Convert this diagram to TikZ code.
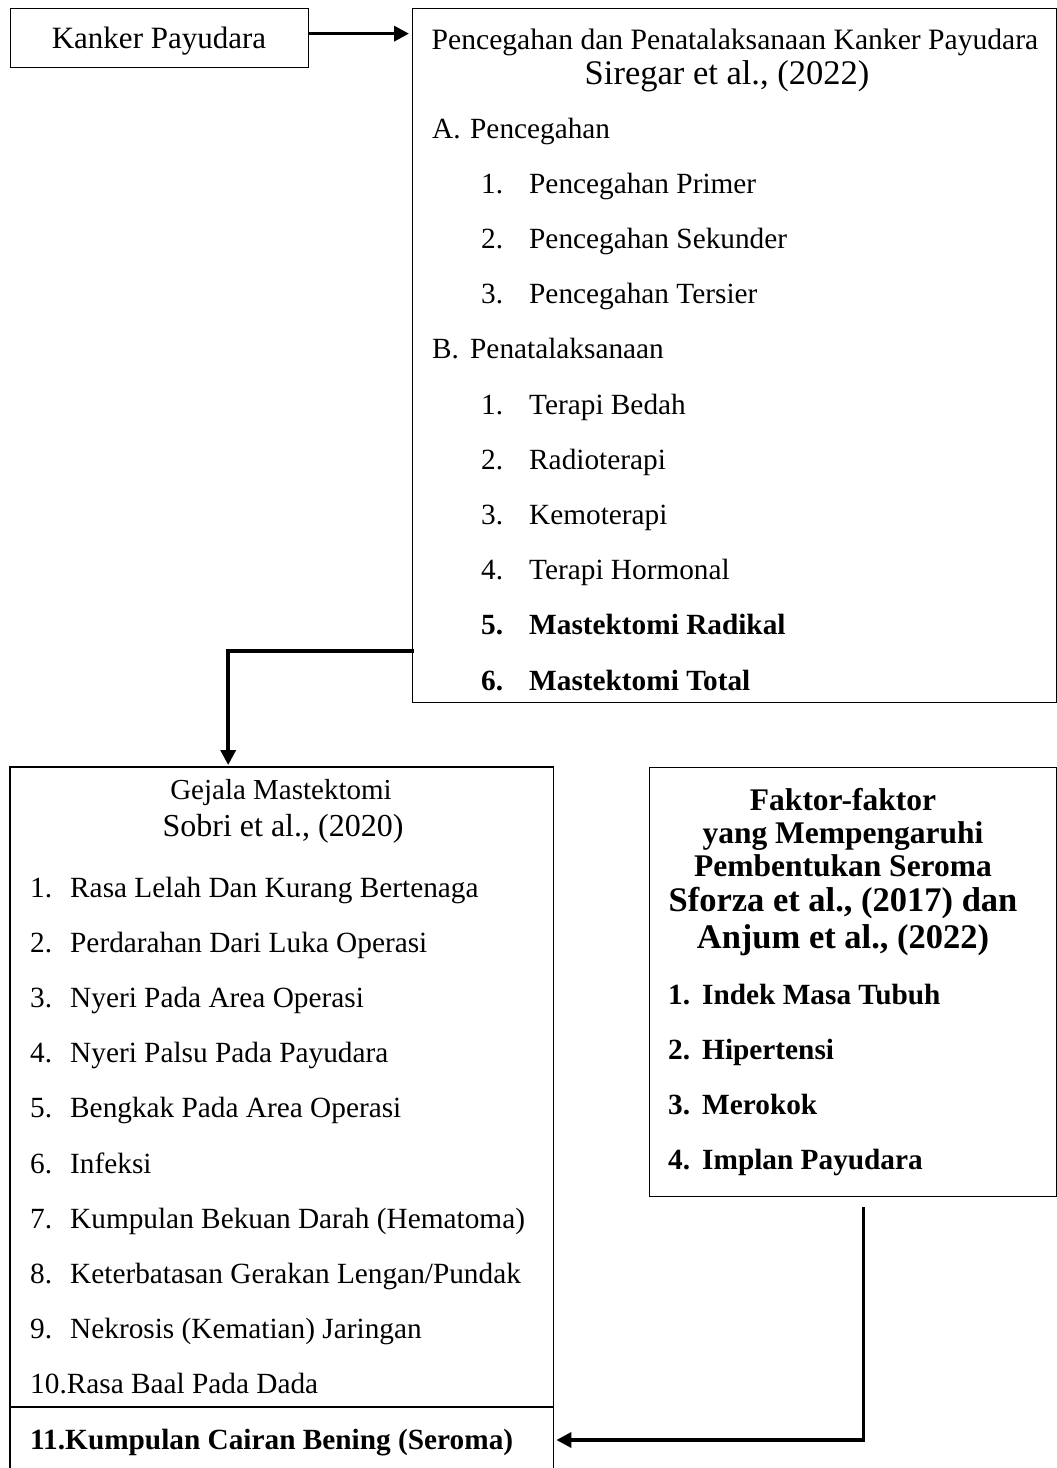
\documentclass[tikz,border=0pt]{standalone}
\usepackage{fontspec}
\setmainfont{Liberation Serif}
\usetikzlibrary{arrows.meta}
\newcommand{\fs}[1]{\fontsize{#1}{#1}\selectfont}
\begin{document}
\begin{tikzpicture}[x=1pt,y=-1pt,
  box/.style={draw, line width=1.3pt, inner sep=0, anchor=north west},
  frame/.style={inner sep=0, anchor=north west},
  lbl/.style={inner sep=0, anchor=base west, font=\fs{29.3}},
  blbl/.style={inner sep=0, anchor=base west, font=\fs{29.3}\bfseries},
  head/.style={inner sep=0, anchor=base, font=\fs{#1}},
  bhead/.style={inner sep=0, anchor=base, font=\fs{#1}\bfseries},
  arr/.style={line width=3.5pt, -{Triangle[length=15pt,width=15pt]}},
]
\useasboundingbox (0,0) rectangle (1057,1468);

% boxes
\node[box, minimum width=298pt, minimum height=59pt] (kp) at (10,8) {};
\node[box, minimum width=644pt, minimum height=694pt] (top) at (412,8) {};
\node[frame, minimum width=543pt, minimum height=701pt] (bl) at (10,767) {};
\draw[line width=1.3pt] (bl.south west) |- (bl.north east) -- (bl.south east);
\node[box, minimum width=407pt, minimum height=429pt] (rb) at (649,767) {};
\coordinate (dv) at (0,1407);
\draw[line width=1.3pt] (bl.west |- dv) -- (bl.east |- dv);

% Kanker Payudara
\node[head=31] (kpt) at (159,48) {Kanker Payudara};

% top box text
\node[head=29.6] (t1) at (735,49) {Pencegahan dan Penatalaksanaan Kanker Payudara};
\node[head=34.5] (t2) at (727,84) {Siregar et al., (2022)};
\node[lbl] (a0) at (432,138) {A.};
\node[lbl] (a1) at (470,138) {Pencegahan};
\node[lbl] (a2) at (481,193.2) {1.};
\node[lbl] (a3) at (529,193.2) {Pencegahan Primer};
\node[lbl] (a4) at (481,248.4) {2.};
\node[lbl] (a5) at (529,248.4) {Pencegahan Sekunder};
\node[lbl] (a6) at (481,303.6) {3.};
\node[lbl] (a7) at (529,303.6) {Pencegahan Tersier};
\node[lbl] (b0) at (432,358.8) {B.};
\node[lbl] (b1) at (470,358.8) {Penatalaksanaan};
\node[lbl] (b2) at (481,414) {1.};
\node[lbl] (b3) at (529,414) {Terapi Bedah};
\node[lbl] (b4) at (481,469.2) {2.};
\node[lbl] (b5) at (529,469.2) {Radioterapi};
\node[lbl] (b6) at (481,524.4) {3.};
\node[lbl] (b7) at (529,524.4) {Kemoterapi};
\node[lbl] (b8) at (481,579.6) {4.};
\node[lbl] (b9) at (529,579.6) {Terapi Hormonal};
\node[blbl] (b10) at (481,634.8) {5.};
\node[blbl] (b11) at (529,634.8) {Mastektomi Radikal};
\node[blbl] (b12) at (481,690) {6.};
\node[blbl] (b13) at (529,690) {Mastektomi Total};

% bottom-left box text
\node[head=29] (g1) at (281,799) {Gejala Mastektomi};
\node[head=32] (g2) at (283,836) {Sobri et al., (2020)};
\node[lbl] (n1) at (30,897) {1.};
\node[lbl] (m1) at (70,897) {Rasa Lelah Dan Kurang Bertenaga};
\node[lbl] (n2) at (30,952.2) {2.};
\node[lbl] (m2) at (70,952.2) {Perdarahan Dari Luka Operasi};
\node[lbl] (n3) at (30,1007.4) {3.};
\node[lbl] (m3) at (70,1007.4) {Nyeri Pada Area Operasi};
\node[lbl] (n4) at (30,1062.6) {4.};
\node[lbl] (m4) at (70,1062.6) {Nyeri Palsu Pada Payudara};
\node[lbl] (n5) at (30,1117.8) {5.};
\node[lbl] (m5) at (70,1117.8) {Bengkak Pada Area Operasi};
\node[lbl] (n6) at (30,1173) {6.};
\node[lbl] (m6) at (70,1173) {Infeksi};
\node[lbl] (n7) at (30,1228.2) {7.};
\node[lbl] (m7) at (70,1228.2) {Kumpulan Bekuan Darah (Hematoma)};
\node[lbl] (n8) at (30,1283.4) {8.};
\node[lbl] (m8) at (70,1283.4) {Keterbatasan Gerakan Lengan/Pundak};
\node[lbl] (n9) at (30,1338.6) {9.};
\node[lbl] (m9) at (70,1338.6) {Nekrosis (Kematian) Jaringan};
\node[lbl] (m10) at (30,1393.8) {10.Rasa Baal Pada Dada};
\node[blbl] (m11) at (30,1449) {11.Kumpulan Cairan Bening (Seroma)};

% right box text
\node[bhead=31.5] (f1) at (843,810) {Faktor-faktor};
\node[bhead=31.5] (f2) at (843,843) {yang Mempengaruhi};
\node[bhead=31.5] (f3) at (843,876) {Pembentukan Seroma};
\node[bhead=34.5] (f4) at (843,911) {Sforza et al., (2017) dan};
\node[bhead=34.5] (f5) at (843,948) {Anjum et al., (2022)};
\node[blbl] (r1) at (668,1004) {1.};
\node[blbl] (s1) at (702,1004) {Indek Masa Tubuh};
\node[blbl] (r2) at (668,1059) {2.};
\node[blbl] (s2) at (702,1059) {Hipertensi};
\node[blbl] (r3) at (668,1114) {3.};
\node[blbl] (s3) at (702,1114) {Merokok};
\node[blbl] (r4) at (668,1169) {4.};
\node[blbl] (s4) at (702,1169) {Implan Payudara};

% connectors
\draw[arr, shorten >=3pt] ([yshift=4.5pt]kp.east) -- ([yshift=4.5pt]kp.east -| top.west);
\coordinate (e1) at (0,651);
\draw[arr, shorten >=2pt] ([xshift=2pt]top.west |- e1) -| ([xshift=-53.5pt]bl.north);
\coordinate (e3) at (0,1440);
\draw[arr, shorten >=3pt] ([xshift=10.5pt,yshift=-10pt]rb.south) |- (bl.east |- e3);
\end{tikzpicture}
\end{document}
